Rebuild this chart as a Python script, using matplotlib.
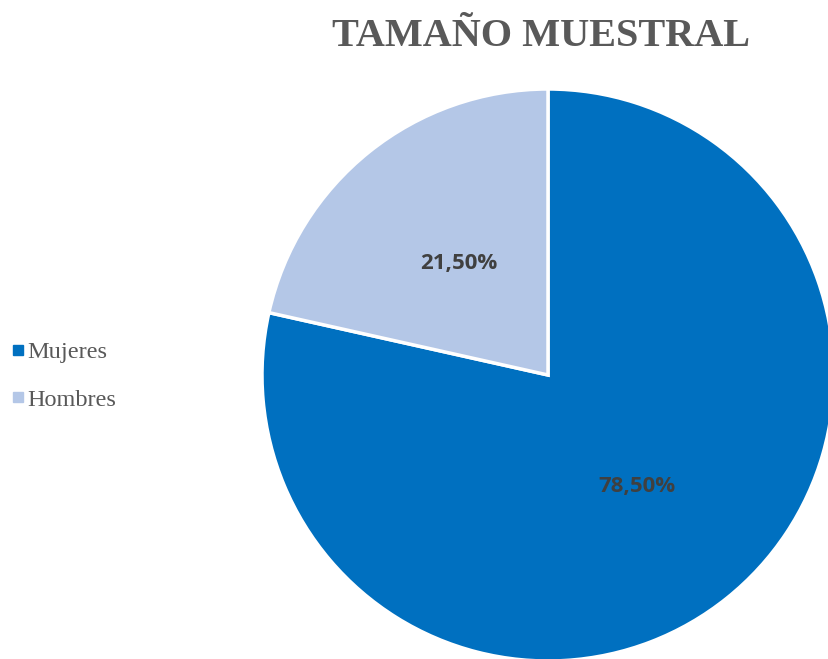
import matplotlib.pyplot as plt
from matplotlib.lines import Line2D

labels = ['Mujeres', 'Hombres']
values = [78.5, 21.5]
colors = ['#0070C0', '#B4C7E7']

W, H = 829, 659
cx, cy, r = 548, 375, 286

fig = plt.figure(figsize=(W / 100, H / 100), dpi=100)
ax = fig.add_axes([(cx - r) / W, (H - cy - r) / H, 2 * r / W, 2 * r / H])

wedges, texts, autotexts = ax.pie(
    values, colors=colors, startangle=90, counterclock=False,
    autopct=lambda p: f'{p:.2f}%'.replace('.', ','), pctdistance=0.5,
    wedgeprops=dict(edgecolor='white', linewidth=2.5),
    textprops=dict(family='Open Sans', fontweight='bold', fontsize=16, color='#404040'),
)
ax.set_xlim(-1, 1)
ax.set_ylim(-1, 1)
ax.set_aspect('equal')
ax.axis('off')

fig.text(541 / W, 1 - 36 / H, 'TAMAÑO MUESTRAL', ha='center', va='center',
         family='Liberation Serif', fontweight='bold', fontsize=29, color='#595959')

handles = [Line2D([], [], marker='s', linestyle='none', markersize=7, color=c) for c in colors]
fig.legend(handles, labels, loc='center left', bbox_to_anchor=(8 / W, 1 - 376 / H),
           frameon=False, borderpad=0, borderaxespad=0, handletextpad=0.0,
           labelspacing=1.05, handlelength=0.8,
           prop=dict(family='Liberation Serif', size=17.5), labelcolor='#595959')

fig.savefig('out.png', dpi=100)
